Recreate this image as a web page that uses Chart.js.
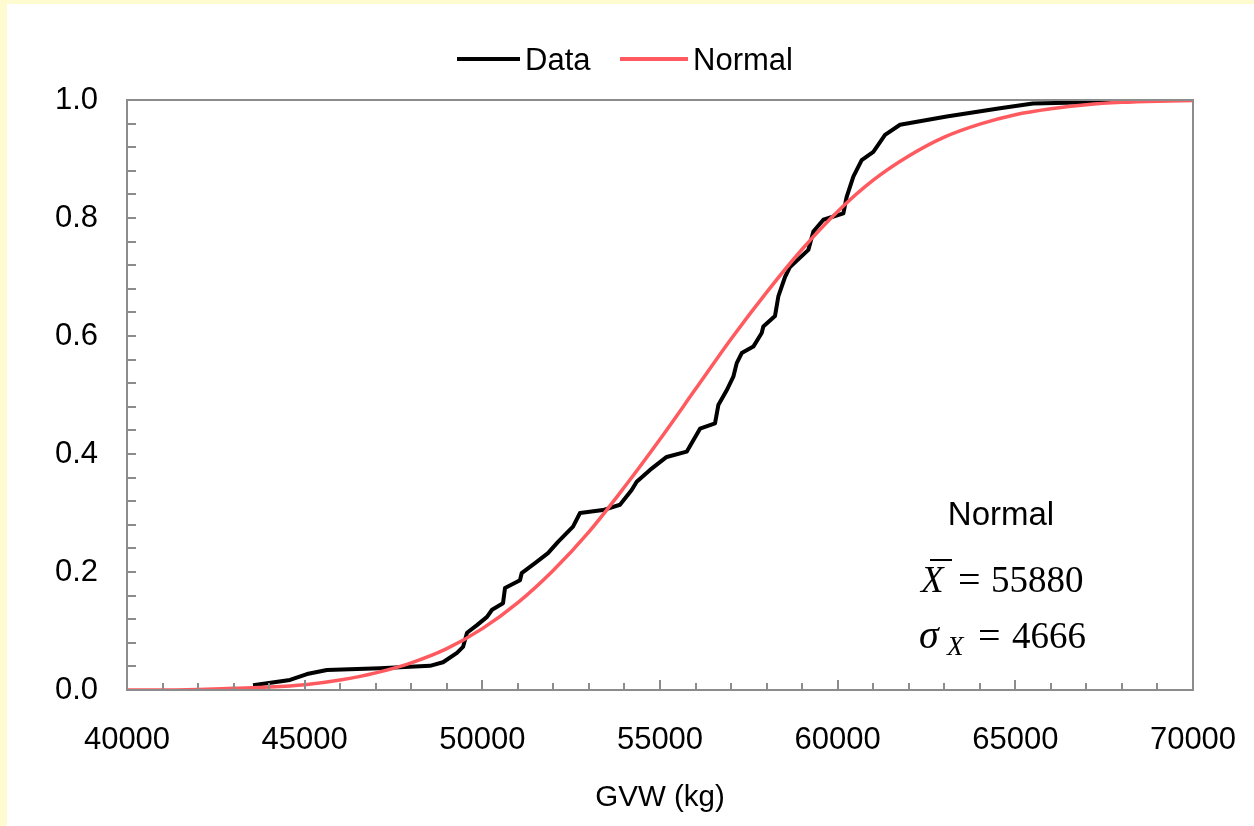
<!DOCTYPE html>
<html><head><meta charset="utf-8">
<script src="https://cdn.jsdelivr.net/npm/chart.js@4.4.1/dist/chart.umd.min.js"></script>
<style>
html,body{margin:0;padding:0;background:#fffbd0;width:1254px;height:826px;overflow:hidden}
#wrap{position:absolute;left:7px;top:4px;width:1247px;height:822px;background:#fff}
canvas{display:block}
</style></head><body><div id="wrap"><canvas id="c" width="1247" height="822" style="width:1247px;height:822px"></canvas></div>
<script>
// Empirical CDF (black "Data")
const dataGVW = [43546,44587,45066,45629,47120,48527,48893,49287,49456,49569,49850,50132,50273,50582,50638,51060,51107,51529,51848,52130,52552,52749,53397,53874,54203,54344,54719,55188,55751,56126,56548,56642,56877,57064,57159,57300,57627,57862,57908,58237,58330,58518,58659,59175,59316,59597,60160,60254,60441,60676,61004,61333,61755,63068,64569,65497,67750];
const dataCDF = [0.008,0.017,0.027,0.034,0.037,0.041,0.047,0.063,0.073,0.097,0.110,0.124,0.136,0.147,0.173,0.186,0.198,0.217,0.232,0.251,0.277,0.300,0.305,0.314,0.339,0.353,0.373,0.395,0.404,0.443,0.452,0.483,0.508,0.531,0.554,0.571,0.582,0.605,0.616,0.634,0.667,0.700,0.717,0.746,0.777,0.797,0.808,0.836,0.870,0.898,0.912,0.941,0.958,0.972,0.986,0.994,0.997];
// Fitted normal CDF (red "Normal")
const normalGVW = [40000,41000,42000,43000,44000,45000,46000,47000,48000,49000,50000,51000,52000,53000,54000,55000,56000,57000,58000,59000,60000,61000,62000,63000,64000,65000,66000,67000,68000,69000,70000];
const normalCDF = [0.000,0.000,0.001,0.003,0.005,0.009,0.017,0.029,0.046,0.070,0.104,0.148,0.203,0.268,0.344,0.425,0.510,0.595,0.674,0.747,0.811,0.864,0.905,0.937,0.959,0.975,0.985,0.992,0.996,0.998,0.999];
const seriesNames = ['Data','Normal'];
const xTickValues = [40000,45000,50000,55000,60000,65000,70000];
const yTickLabels = ['0.0','0.2','0.4','0.6','0.8','1.0'];
const annotationTitle = 'Normal';
const meanText = '55880';
const sdText = '4666';

const FONT = "'Liberation Sans', Arial, sans-serif";
const SERIF = "'Liberation Serif', 'Times New Roman', serif";
const AXIS = '#8c8c8c';

const extras = {
  id: 'extras',
  afterDatasetsDraw(chart) {
    const ctx = chart.ctx;
    const xs = chart.scales.x, ys = chart.scales.y;
    const a = chart.chartArea;
    ctx.save();
    // box
    ctx.strokeStyle = AXIS; ctx.lineWidth = 2;
    ctx.strokeRect(a.left, a.top, a.right - a.left, a.bottom - a.top);
    // x minor/major ticks (inside)
    ctx.beginPath();
    for (let v = xs.min + 1000; v < xs.max; v += 1000) {
      const px = Math.round(xs.getPixelForValue(v)) ;
      const len = (v % 5000 === 0) ? 10 : 7;
      ctx.moveTo(px, a.bottom); ctx.lineTo(px, a.bottom - len);
    }
    for (let i = 1; i < 25; i++) {
      const v = i * 0.04;
      const py = Math.round(ys.getPixelForValue(v));
      ctx.moveTo(a.left, py); ctx.lineTo(a.left + 9, py);
    }
    ctx.stroke();
    // legend
    const ds = chart.data.datasets;
    const items = [{x0: 450, x1: 513, tx: 518}, {x0: 613, x1: 681, tx: 686}];
    const ly = 55;
    ctx.font = '31px ' + FONT; ctx.textBaseline = 'middle'; ctx.textAlign = 'left';
    items.forEach((it, i) => {
      ctx.strokeStyle = ds[i].borderColor; ctx.lineWidth = 4;
      ctx.beginPath(); ctx.moveTo(it.x0, ly); ctx.lineTo(it.x1, ly); ctx.stroke();
      ctx.fillStyle = '#000'; ctx.fillText(ds[i].label, it.tx, ly + 2);
    });
    // annotation
    ctx.fillStyle = '#000';
    ctx.textAlign = 'center';
    ctx.font = '33px ' + FONT;
    ctx.fillText(annotationTitle, 994, 512);
    ctx.textAlign = 'left'; ctx.textBaseline = 'alphabetic';
    ctx.font = 'italic 37px ' + SERIF;
    ctx.fillText('X', 914, 588);
    ctx.strokeStyle = '#000'; ctx.lineWidth = 2;
    ctx.beginPath(); ctx.moveTo(923, 556); ctx.lineTo(945, 556); ctx.stroke();
    ctx.font = '40px ' + SERIF;
    ctx.fillText('=', 951, 589);
    ctx.font = '37px ' + SERIF;
    ctx.fillText(meanText, 984, 588);
    ctx.font = 'italic 40px ' + SERIF;
    ctx.fillText('\u03C3', 912, 644);
    ctx.font = 'italic 27px ' + SERIF;
    ctx.fillText('X', 940, 651);
    ctx.font = '40px ' + SERIF;
    ctx.fillText('=', 971, 645);
    ctx.font = '37px ' + SERIF;
    ctx.fillText(sdText, 1005, 644);
    ctx.restore();
  }
};

new Chart(document.getElementById('c'), {
  type: 'line',
  data: {
    datasets: [
      { label: seriesNames[0], data: dataGVW.map((x, i) => ({x, y: dataCDF[i]})), borderColor: '#000000', borderWidth: 4, pointRadius: 0, tension: 0, borderJoinStyle: 'round', order: 1 },
      { label: seriesNames[1], data: normalGVW.map((x, i) => ({x, y: normalCDF[i]})), borderColor: '#ff5a5f', borderWidth: 3.5, pointRadius: 0, tension: 0.4, cubicInterpolationMode: 'monotone', order: 0 }
    ]
  },
  options: {
    responsive: false, animation: false, events: [],
    layout: { padding: { left: 0, top: 96, right: 61, bottom: 0 } },
    plugins: { legend: { display: false }, tooltip: { enabled: false } },
    scales: {
      x: {
        type: 'linear', min: 40000, max: 70000,
        afterBuildTicks: s => { s.ticks = xTickValues.map(v => ({value: v})); },
        afterFit: s => { s.height = 136; s.paddingLeft = 0; s.paddingRight = 0; },
        grid: { display: false, drawTicks: false }, border: { display: false },
        ticks: { padding: 32, color: '#000', font: { family: FONT, size: 31 }, callback: v => String(v), maxRotation: 0, autoSkip: false },
        title: { display: true, text: 'GVW (kg)', color: '#000', font: { family: FONT, size: 29.5 }, padding: { top: 0, bottom: 10 } }
      },
      y: {
        min: 0, max: 1,
        afterBuildTicks: s => { s.ticks = yTickLabels.map(t => ({value: parseFloat(t)})); },
        afterFit: s => { s.width = 120; s.paddingTop = 0; s.paddingBottom = 0; },
        grid: { display: false, drawTicks: false }, border: { display: false },
        ticks: { padding: 29, color: '#000', font: { family: FONT, size: 31 }, callback: (v) => yTickLabels.find(t => parseFloat(t) === v) || v.toFixed(1), autoSkip: false }
      }
    }
  },
  plugins: [extras]
});
</script></body></html>
